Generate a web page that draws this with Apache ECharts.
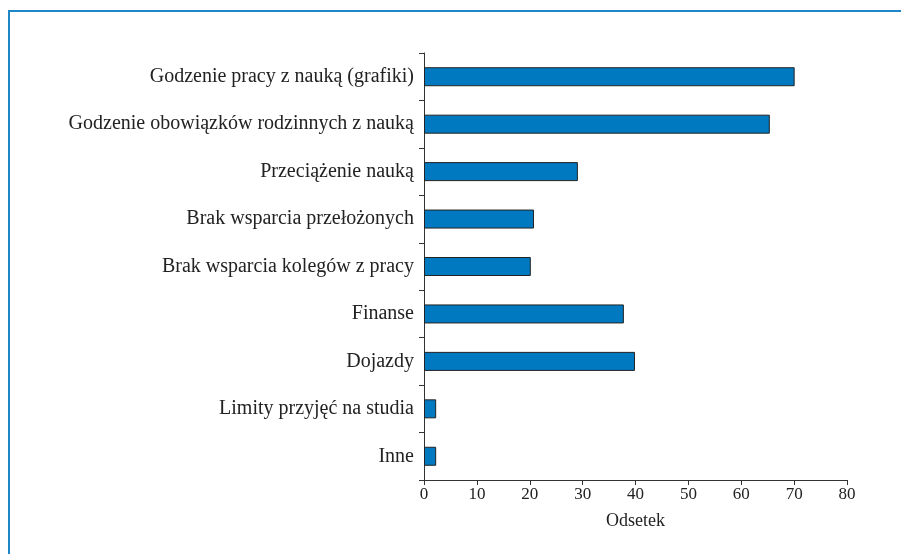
<!DOCTYPE html>
<html>
<head>
<meta charset="utf-8">
<script src="https://cdn.jsdelivr.net/npm/echarts@6/dist/echarts.min.js"></script>
<style>
  html, body { margin: 0; padding: 0; background: #fff; }
  #chart { width: 901px; height: 554px; }
</style>
</head>
<body>
<div id="chart"></div>
<script>
// categories from top to bottom
const categories = [
  'Godzenie pracy z nauką (grafiki)',
  'Godzenie obowiązków rodzinnych z nauką',
  'Przeciążenie nauką',
  'Brak wsparcia przełożonych',
  'Brak wsparcia kolegów z pracy',
  'Finanse',
  'Dojazdy',
  'Limity przyjęć na studia',
  'Inne'
]
const values = [70.1, 65.4, 29.1, 20.8, 20.2, 37.8, 39.9, 2.3, 2.3]
const xTicks = [0, 10, 20, 30, 40, 50, 60, 70, 80]

const chart = echarts.init(document.getElementById('chart'))

const font = "'Liberation Serif', 'DejaVu Serif', serif"

const option = {
  animation: false,
  textStyle: { fontFamily: font },
  graphic: [
    {
      type: 'polyline',
      shape: { points: [[9, 554], [9, 11], [901, 11]] },
      style: { stroke: '#1f86c8', lineWidth: 2, fill: null }
    }
  ],
  grid: {
    left: 424,
    right: 54,
    top: 53,
    bottom: 74
  },
  xAxis: {
    type: 'value',
    min: xTicks[0],
    max: xTicks[xTicks.length - 1],
    interval: 10,
    name: 'Odsetek',
    nameLocation: 'middle',
    nameGap: 32,
    nameTextStyle: { color: '#222', fontSize: 18, fontFamily: font },
    axisLine: { show: true, lineStyle: { color: '#333', width: 1 } },
    axisTick: { show: true, length: 5, lineStyle: { color: '#333' } },
    axisLabel: { color: '#222', fontSize: 17, fontFamily: font, margin: 6 },
    splitLine: { show: false }
  },
  yAxis: {
    type: 'category',
    data: categories,
    inverse: true,
    axisLine: { show: true, lineStyle: { color: '#333', width: 1 } },
    axisTick: { show: true, length: 5, lineStyle: { color: '#333' } },
    axisLabel: { color: '#222', fontSize: 20, fontFamily: font, margin: 10 }
  },
  series: [
    {
      type: 'bar',
      data: values,
      barWidth: 19,
      itemStyle: {
        color: '#0079c1',
        borderColor: '#222',
        borderWidth: 1
      }
    }
  ]
}

chart.setOption(option)
</script>
</body>
</html>
